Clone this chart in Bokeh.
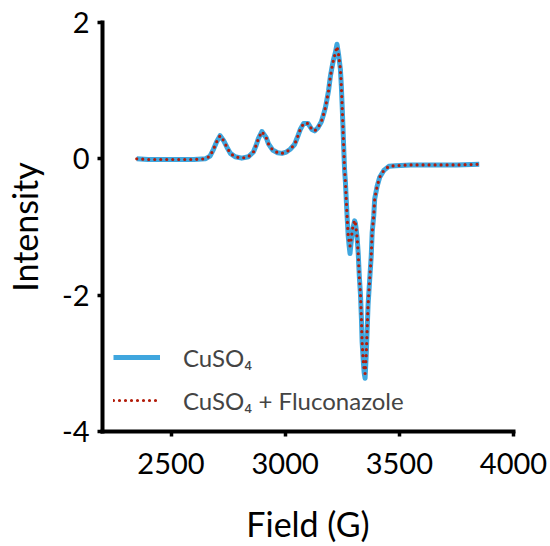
from bokeh.plotting import figure
from bokeh.models import Range1d, Legend, LegendItem, FixedTicker
from bokeh.embed import file_html
from bokeh.resources import INLINE

field = [2350, 2400, 2450, 2500, 2550, 2600, 2650, 2671, 2686, 2700, 2715, 2730, 2745, 2760,
         2781, 2810, 2839, 2861, 2873, 2883, 2898, 2917, 2927, 2945, 2967, 2986, 3005, 3022,
         3041, 3054, 3066, 3081, 3100, 3117, 3129, 3142, 3158, 3168, 3176, 3183, 3190, 3198,
         3205, 3212, 3220, 3227, 3234, 3242, 3246, 3249, 3253, 3256, 3260, 3264, 3271, 3276,
         3280, 3284, 3288, 3296, 3304, 3308, 3315, 3320, 3325, 3330, 3334, 3337, 3342, 3346,
         3350, 3355, 3359, 3363, 3370, 3377, 3381, 3388, 3392, 3403, 3414, 3432, 3454, 3483,
         3550, 3650, 3750, 3850]

cuso4 = [0.00, -0.01, -0.01, -0.01, -0.01, -0.01, 0.00, 0.04, 0.14, 0.25, 0.34, 0.27, 0.17, 0.08,
         0.03, 0.01, 0.03, 0.10, 0.20, 0.30, 0.40, 0.31, 0.22, 0.13, 0.09, 0.08, 0.10, 0.14,
         0.21, 0.32, 0.43, 0.52, 0.52, 0.43, 0.41, 0.45, 0.54, 0.65, 0.75, 0.87, 1.00, 1.21,
         1.34, 1.46, 1.56, 1.68, 1.53, 1.31, 1.07, 0.83, 0.48, 0.20, -0.15, -0.35, -0.83, -1.13,
         -1.27, -1.39, -1.25, -1.03, -0.91, -0.95, -1.15, -1.39, -1.74, -2.00, -2.35, -2.69, -2.96, -3.14,
         -3.22, -2.88, -2.52, -2.15, -1.78, -1.42, -1.08, -0.83, -0.59, -0.40, -0.27, -0.17, -0.11, -0.10,
         -0.09, -0.09, -0.09, -0.08]

cuso4_fluconazole = [0.00, -0.01, -0.01, -0.01, -0.01, -0.01, 0.00, 0.04, 0.14, 0.25, 0.34, 0.27, 0.17, 0.08,
         0.03, 0.01, 0.03, 0.10, 0.20, 0.30, 0.40, 0.31, 0.22, 0.13, 0.09, 0.08, 0.10, 0.14,
         0.21, 0.32, 0.43, 0.52, 0.52, 0.43, 0.41, 0.45, 0.54, 0.65, 0.75, 0.87, 1.00, 1.21,
         1.34, 1.46, 1.56, 1.65, 1.53, 1.31, 1.07, 0.83, 0.48, 0.20, -0.15, -0.35, -0.83, -1.13,
         -1.22, -1.28, -1.20, -1.01, -0.90, -0.95, -1.15, -1.39, -1.74, -2.00, -2.35, -2.69, -2.96, -3.10,
         -3.15, -2.88, -2.52, -2.15, -1.78, -1.42, -1.08, -0.83, -0.59, -0.40, -0.27, -0.17, -0.11, -0.10,
         -0.09, -0.09, -0.09, -0.08]

x_ticks = [2500, 3000, 3500, 4000]
y_ticks = [-4, -2, 0, 2]
y_tick_labels = ["-4", "-2", "0", "2"]
labels = ["CuSO\u2084", "CuSO\u2084 + Fluconazole"]
x_title = "Field (G)"
y_title = "Intensity"

FONT = "Lato"

p = figure(width=550, height=546, output_backend="svg", toolbar_location=None,
           x_range=Range1d(2200, 4000), y_range=Range1d(-4, 2),
           min_border_left=102, min_border_right=37, min_border_top=22, min_border_bottom=113)
p.outline_line_color = None
p.xgrid.visible = False
p.ygrid.visible = False

r1 = p.line(field, cuso4, line_color="#3FA6DE", line_width=5, line_join="round")
r2 = p.line(field, cuso4_fluconazole, line_color="#B31D0B", line_width=3.2,
            line_dash="0 6", line_cap="round", line_join="round")

for ax in (p.xaxis[0], p.yaxis[0]):
    ax.axis_line_width = 4
    ax.axis_line_color = "black"
    ax.axis_line_cap = "square"
    ax.major_tick_line_width = 3.5
    ax.major_tick_out = 5
    ax.major_tick_in = 0
    ax.minor_tick_line_color = None
    ax.major_label_text_font = FONT
    ax.major_label_text_font_size = "29px"
    ax.major_label_text_color = "black"
    ax.axis_label_text_font = FONT
    ax.axis_label_text_font_size = "34px"
    ax.axis_label_text_font_style = "normal"
    ax.axis_label_text_color = "black"

p.xaxis.ticker = FixedTicker(ticks=x_ticks)
p.yaxis.ticker = FixedTicker(ticks=y_ticks)
p.yaxis.major_label_overrides = {t: s for t, s in zip(y_ticks, y_tick_labels)}
p.xaxis.axis_label = x_title
p.yaxis.axis_label = y_title
p.xaxis.major_label_standoff = 16
p.yaxis.major_label_standoff = 8
p.xaxis.axis_label_standoff = 26
p.yaxis.axis_label_standoff = 14

legend = Legend(items=[LegendItem(label=labels[0], renderers=[r1]),
                       LegendItem(label=labels[1], renderers=[r2])],
                location=(11, 16), padding=0, margin=0, spacing=13,
                glyph_width=47, glyph_height=30, label_standoff=23,
                label_text_font=FONT, label_text_font_size="24px",
                border_line_color=None, background_fill_alpha=0)
p.add_layout(legend)

open("out.html", "w").write(file_html(p, INLINE))
